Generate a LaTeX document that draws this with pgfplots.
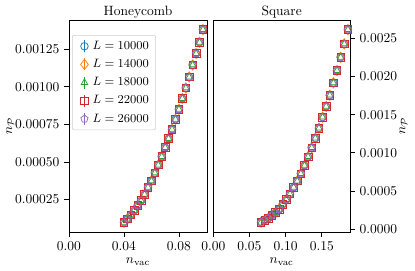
\documentclass[border=0pt]{standalone}
\usepackage{pgfplots}
\pgfplotsset{compat=1.18}
\usepackage{pgfplotstable}
\definecolor{cA}{HTML}{1F77B4}
\definecolor{cB}{HTML}{FF7F0E}
\definecolor{cC}{HTML}{2CA02C}
\definecolor{cD}{HTML}{D62728}
\definecolor{cE}{HTML}{9467BD}

\pgfplotstableread{
x y
0.0400 0.000099
0.0425 0.000121
0.0450 0.000148
0.0475 0.000177
0.0500 0.000210
0.0525 0.000243
0.0550 0.000285
0.0575 0.000332
0.0600 0.000374
0.0625 0.000427
0.0650 0.000480
0.0675 0.000536
0.0700 0.000596
0.0725 0.000656
0.0750 0.000717
0.0775 0.000784
0.0800 0.000850
0.0825 0.000922
0.0850 0.000992
0.0875 0.001065
0.0900 0.001145
0.0925 0.001221
0.0950 0.001296
0.0975 0.001380
}\honey

\pgfplotstableread{
x y
0.066 0.000092
0.071 0.000118
0.076 0.000144
0.081 0.000183
0.086 0.000218
0.091 0.000261
0.096 0.000327
0.101 0.000388
0.106 0.000461
0.111 0.000549
0.116 0.000631
0.121 0.000728
0.126 0.000836
0.131 0.000950
0.136 0.001068
0.141 0.001193
0.146 0.001324
0.151 0.001468
0.156 0.001608
0.161 0.001755
0.166 0.001917
0.171 0.002078
0.176 0.002252
0.181 0.002427
0.186 0.002614
}\square

\pgfplotsset{
  panel/.style={
    scale only axis, anchor=south west, height=157pt,
    tick align=outside, major tick length=3.5pt,
    every tick/.style={black, line width=0.6pt},
    axis line style={line width=0.6pt},
    xmin=0, scaled ticks=false, xtick pos=bottom,
    xlabel={$n_{\mathrm{vac}}$},
    ylabel={$n_{\mathcal{P}}$},
    xlabel shift=-1.5pt,
    x tick label style={/pgf/number format/.cd, fixed, fixed zerofill, precision=2},
    title style={yshift=-8.5pt},
  },
  s1/.style={cA, mark=o, mark size=2.8pt, line width=0.55pt, only marks},
  s2/.style={cB, mark=diamond, mark size=3.8pt, line width=0.55pt, only marks},
  s3/.style={cC, mark=triangle, mark size=2.8pt, line width=0.55pt, only marks},
  s4/.style={cD, mark=square, mark size=2.8pt, line width=0.55pt, only marks},
  s5/.style={cE, mark=pentagon, mark size=2.8pt, line width=0.55pt, only marks},
}

\begin{document}
\begin{tikzpicture}
\useasboundingbox (0,0) rectangle (307.4pt,200.7pt);
\begin{axis}[panel,
  at={(51.1pt,28.9pt)}, width=102.2pt,
  xmax=0.1004, ymin=0.000035, ymax=0.001444,
  xtick={0,0.04,0.08},
  ytick={0.00025,0.0005,0.00075,0.001,0.00125},
  ytick pos=left,
  ylabel shift=-6pt,
  y tick label style={/pgf/number format/.cd, fixed, fixed zerofill, precision=5},
  title={Honeycomb},
  legend cell align=left,
  legend image code/.code={%
    \path[draw=none,fill=none] (-6pt,0pt) -- (4pt,0pt);
    \draw[#1,mark=none] (0pt,-4.5pt) -- (0pt,4.5pt);
    \draw[#1,only marks] plot coordinates {(0pt,0pt)};},
  legend style={at={(0.022,0.929)}, anchor=north west, draw=black!20,
    rounded corners=1.5pt, font=\small, row sep=1.8pt, inner xsep=3pt, inner ysep=2.3pt},
]
\addplot+[s1] table[x=x,y=y]{\honey};
\addplot+[s2] table[x=x,y=y]{\honey};
\addplot+[s3] table[x=x,y=y]{\honey};
\addplot+[s4] table[x=x,y=y]{\honey};
\addplot+[s5] table[x=x,y=y]{\honey};
\legend{$L=10000$,$L=14000$,$L=18000$,$L=22000$,$L=26000$}
\end{axis}
\begin{axis}[panel,
  at={(158pt,28.9pt)}, width=101.3pt,
  xmax=0.189, ymin=-0.000035, ymax=0.00274,
  xtick={0,0.05,0.1,0.15},
  ytick={0,0.0005,0.001,0.0015,0.002,0.0025},
  ytick pos=right, yticklabel pos=right,
  ylabel shift=-5pt,
  y tick label style={/pgf/number format/.cd, fixed, fixed zerofill, precision=4},
  title={Square},
]
\addplot+[s1] table[x=x,y=y]{\square};
\addplot+[s2] table[x=x,y=y]{\square};
\addplot+[s3] table[x=x,y=y]{\square};
\addplot+[s4] table[x=x,y=y]{\square};
\addplot+[s5] table[x=x,y=y]{\square};
\end{axis}
\end{tikzpicture}
\end{document}
